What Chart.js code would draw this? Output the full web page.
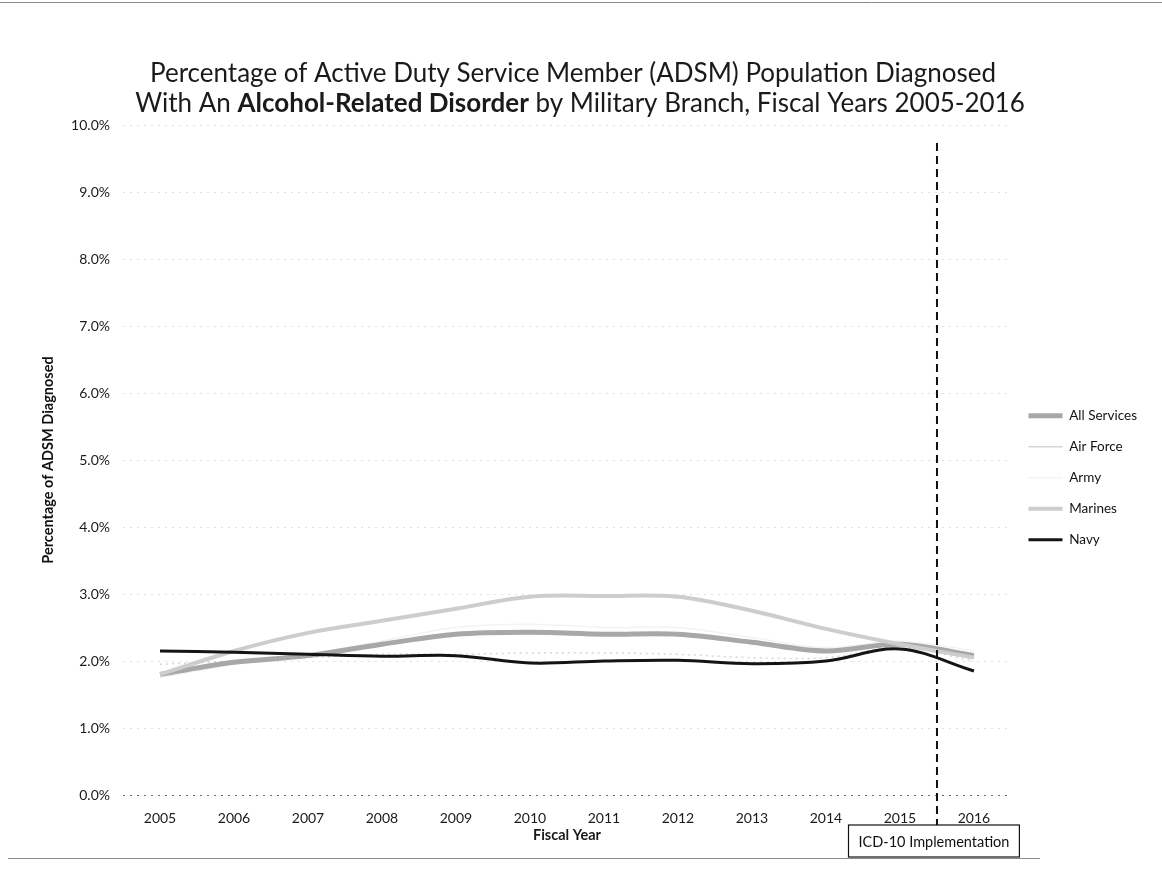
<!DOCTYPE html>
<html>
<head>
<meta charset="utf-8">
<title>ADSM Alcohol-Related Disorder Diagnoses by Branch</title>
<script src="https://cdn.jsdelivr.net/npm/chart.js@4.4.1/dist/chart.umd.min.js"></script>
<style>
  html, body { margin: 0; padding: 0; background: #ffffff; }
  canvas { display: block; }
</style>
</head>
<body>
<canvas id="chart" width="1162" height="871"></canvas>
<script>
// Fiscal years on the category axis
const fiscalYears = ['2005', '2006', '2007', '2008', '2009', '2010', '2011', '2012', '2013', '2014', '2015', '2016'];

// Percent of the active duty population diagnosed, per branch
const allServices = [1.80, 1.98, 2.08, 2.25, 2.40, 2.43, 2.40, 2.40, 2.28, 2.15, 2.25, 2.08];
const airForce    = [1.95, 2.00, 2.05, 2.10, 2.10, 2.12, 2.12, 2.10, 2.05, 2.05, 2.20, 2.00];
const army        = [1.75, 1.95, 2.10, 2.30, 2.50, 2.55, 2.50, 2.50, 2.35, 2.20, 2.30, 2.15];
const marines     = [1.80, 2.15, 2.42, 2.60, 2.78, 2.96, 2.97, 2.96, 2.75, 2.48, 2.25, 2.05];
const navy        = [2.15, 2.13, 2.10, 2.07, 2.08, 1.97, 2.00, 2.01, 1.96, 2.00, 2.18, 1.85];

// Percent ticks on the value axis
const percentTicks = [0, 1, 2, 3, 4, 5, 6, 7, 8, 9, 10];

// Title text; the middle phrase of the second line is set in bold
const titleLine1 = [['Percentage of Active Duty Service Member (ADSM) Population Diagnosed', false]];
const titleLine2 = [['With An ', false], ['Alcohol-Related Disorder', true], [' by Military Branch, Fiscal Years 2005-2016', false]];

// Coding change marker, placed between FY2015 and FY2016 on the category axis
const icdLabel = 'ICD-10 Implementation';
const icdAxisValue = 10.5;

const FONT = 'Lato, "Open Sans", "Liberation Sans", sans-serif';

// Two-line chart title with mixed weights
const titlePlugin = {
  id: 'mixedTitle',
  afterDraw(chart) {
    const ctx = chart.ctx;
    const size = 26;
    const drawLine = (parts, y, cx) => {
      let total = 0;
      parts.forEach(([t, bold]) => {
        ctx.font = (bold ? 'bold ' : '') + size + 'px ' + FONT;
        total += ctx.measureText(t).width;
      });
      let x = cx - total / 2;
      parts.forEach(([t, bold]) => {
        ctx.font = (bold ? 'bold ' : '') + size + 'px ' + FONT;
        ctx.fillText(t, x, y);
        x += ctx.measureText(t).width;
      });
    };
    ctx.save();
    ctx.fillStyle = '#1a1a1a';
    ctx.textBaseline = 'middle';
    ctx.textAlign = 'left';
    drawLine(titleLine1, 74, 573);
    drawLine(titleLine2, 104, 580);
    ctx.restore();
  }
};

// Frame lines around the figure
const framePlugin = {
  id: 'frame',
  beforeDraw(chart) {
    const ctx = chart.ctx;
    ctx.save();
    ctx.strokeStyle = '#8a8a8a';
    ctx.lineWidth = 1;
    ctx.beginPath();
    ctx.moveTo(0, 2.5);
    ctx.lineTo(chart.width, 2.5);
    ctx.moveTo(8, 858.5);
    ctx.lineTo(1040, 858.5);
    ctx.stroke();
    ctx.restore();
  }
};

// Dashed vertical marker with its boxed caption below the axis
const icdPlugin = {
  id: 'icdMarker',
  afterDatasetsDraw(chart) {
    const ctx = chart.ctx;
    const area = chart.chartArea;
    const x = chart.scales.x.getPixelForValue(icdAxisValue);
    const boxTop = area.bottom + 30;
    const boxH = 32;
    ctx.save();
    ctx.font = '14.5px ' + FONT;
    const tw = ctx.measureText(icdLabel).width;
    const boxW = tw + 20;
    ctx.strokeStyle = '#111';
    ctx.lineWidth = 2;
    ctx.setLineDash([8, 5]);
    ctx.beginPath();
    ctx.moveTo(x, area.top + 18);
    ctx.lineTo(x, boxTop);
    ctx.stroke();
    ctx.setLineDash([]);
    ctx.lineWidth = 1.2;
    const bx = Math.round(x - 4 - boxW / 2) + 0.5;
    ctx.fillStyle = '#fff';
    ctx.fillRect(bx, boxTop, boxW, boxH);
    ctx.strokeRect(bx, boxTop, boxW, boxH);
    ctx.fillStyle = '#111';
    ctx.textAlign = 'center';
    ctx.textBaseline = 'middle';
    ctx.fillText(icdLabel, bx + boxW / 2, boxTop + boxH / 2 + 1);
    ctx.restore();
  }
};

const line = (label, data, color, width, order, extra) => Object.assign({
  label, data,
  borderColor: color,
  backgroundColor: color,
  borderWidth: width,
  pointRadius: 0,
  pointHoverRadius: 0,
  tension: 0.35,
  fill: false,
  order
}, extra || {});

new Chart(document.getElementById('chart'), {
  type: 'line',
  data: {
    labels: fiscalYears,
    datasets: [
      line('All Services', allServices, '#a8a8a8', 5, 2),
      line('Air Force', airForce, '#d6d6d6', 1.5, 3, { borderDash: [2, 4] }),
      line('Army', army, '#f3f3f3', 1.5, 4),
      line('Marines', marines, '#cdcdcd', 4, 1),
      line('Navy', navy, '#141414', 3, 0)
    ]
  },
  options: {
    responsive: false,
    animation: false,
    events: [],
    layout: { padding: { top: 125, left: 40, right: 15, bottom: 0 } },
    plugins: {
      title: { display: false },
      tooltip: { enabled: false },
      legend: {
        position: 'right',
        align: 'start',
        title: { display: true, text: '', padding: { top: 0, bottom: 252 } },
        labels: {
          sort: (a, b) => a.datasetIndex - b.datasetIndex,
          usePointStyle: true,
          pointStyle: 'line',
          pointStyleWidth: 34,
          padding: 17.5,
          color: '#111',
          font: { family: FONT, size: 13.5 }
        }
      }
    },
    scales: {
      x: {
        type: 'category',
        offset: true,
        grid: { display: false, drawTicks: false },
        border: { display: false },
        ticks: {
          color: '#1a1a1a',
          padding: 15,
          maxRotation: 0,
          font: { family: FONT, size: 14 }
        },
        title: {
          display: true,
          text: 'Fiscal Year',
          color: '#1a1a1a',
          font: { family: FONT, size: 14.5, weight: 'bold' },
          padding: { top: 0, bottom: 27 }
        },
        afterFit(scale) { scale.height = 76; }
      },
      y: {
        min: 0,
        max: 10,
        afterBuildTicks(scale) { scale.ticks = percentTicks.map(v => ({ value: v })); },
        grid: {
          drawTicks: false,
          color: ctx => (ctx.tick && ctx.tick.value === 0) ? '#6a6a6a' : 'rgba(0,0,0,0.12)',
          lineWidth: 1
        },
        border: { display: false, dash: [2, 5] },
        ticks: {
          color: '#1a1a1a',
          padding: 13,
          font: { family: FONT, size: 14 },
          callback: v => Number(v).toFixed(1) + '%'
        },
        title: {
          display: true,
          text: 'Percentage of ADSM Diagnosed',
          color: '#111',
          font: { family: FONT, size: 14.5, weight: 'bold' },
          padding: { top: 0, bottom: 0 }
        },
        afterFit(scale) { scale.width = 83; }
      }
    }
  },
  plugins: [framePlugin, titlePlugin, icdPlugin]
});
</script>
</body>
</html>
